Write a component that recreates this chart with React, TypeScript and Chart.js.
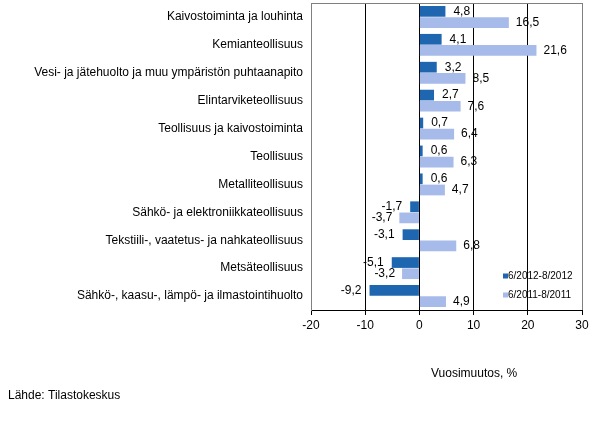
import { useEffect, useRef } from "react";
import { Chart, registerables } from "chart.js";

Chart.register(...registerables);

const categories = [
  "Kaivostoiminta ja louhinta",
  "Kemianteollisuus",
  "Vesi- ja jätehuolto ja muu ympäristön puhtaanapito",
  "Elintarviketeollisuus",
  "Teollisuus ja kaivostoiminta",
  "Teollisuus",
  "Metalliteollisuus",
  "Sähkö- ja elektroniikkateollisuus",
  "Tekstiili-, vaatetus- ja nahkateollisuus",
  "Metsäteollisuus",
  "Sähkö-, kaasu-, lämpö- ja ilmastointihuolto",
];

const series2012 = [4.8, 4.1, 3.2, 2.7, 0.7, 0.6, 0.6, -1.7, -3.1, -5.1, -9.2];
const series2011 = [16.5, 21.6, 8.5, 7.6, 6.4, 6.3, 4.7, -3.7, 6.8, -3.2, 4.9];

const seriesLabels = ["6/2012-8/2012", "6/2011-8/2011"];
const xTicks = [-20, -10, 0, 10, 20, 30];

const FONT = "'Liberation Sans', Arial, sans-serif";
const DARK = "#1f66b1";
const LIGHT = "#a6bbea";

// value labels next to the bar ends
const valueLabels = {
  id: "valueLabels",
  afterDatasetsDraw(chart: any) {
    const ctx = chart.ctx;
    ctx.save();
    ctx.font = `12px ${FONT}`;
    ctx.fillStyle = "#000";
    ctx.textBaseline = "middle";
    chart.data.datasets.forEach((ds: any, i: number) => {
      const meta = chart.getDatasetMeta(i);
      const gap = i === 0 ? 8 : 7;
      meta.data.forEach((bar: any, j: number) => {
        const v = ds.data[j];
        const txt = v.toFixed(1).replace(".", ",");
        if (v >= 0) {
          ctx.textAlign = "left";
          ctx.fillText(txt, bar.x + gap, bar.y);
        } else {
          ctx.textAlign = "right";
          ctx.fillText(txt, bar.x - gap, bar.y);
        }
      });
    });
    ctx.restore();
  },
};

// top border, legend and the texts below the chart
const extras = {
  id: "extras",
  beforeDatasetsDraw(chart: any) {
    const { ctx, chartArea } = chart;
    ctx.save();
    ctx.strokeStyle = "#808080";
    ctx.lineWidth = 1;
    ctx.beginPath();
    ctx.moveTo(chartArea.left, chartArea.top + 0.5);
    ctx.lineTo(chartArea.right, chartArea.top + 0.5);
    ctx.stroke();
    ctx.restore();
  },
  afterDraw(chart: any) {
    const { ctx } = chart;
    ctx.save();
    ctx.font = `10px ${FONT}`;
    ctx.textBaseline = "middle";
    ctx.textAlign = "left";
    chart.data.datasets.forEach((ds: any, i: number) => {
      const y = 276 + i * 19;
      ctx.fillStyle = ds.backgroundColor;
      ctx.fillRect(503, y - 2.5, 5, 5);
      ctx.fillStyle = "#000";
      ctx.fillText(ds.label, 508, y);
    });
    ctx.font = `12px ${FONT}`;
    ctx.fillText("Vuosimuutos, %", 431, 374);
    ctx.fillText("Lähde: Tilastokeskus", 8, 396);
    ctx.restore();
  },
};

const App = () => {
  const chartRef = useRef<HTMLCanvasElement>(null);
  const chartInstanceRef = useRef<Chart>();

  useEffect(() => {
    if (!chartRef.current) return;
    const ctx = chartRef.current.getContext("2d");

    if (chartInstanceRef.current) {
      chartInstanceRef.current.destroy();
    }

    chartInstanceRef.current = new Chart(ctx!, {
      type: "bar",
      data: {
        labels: categories,
        datasets: [
          {
            label: seriesLabels[0],
            data: series2012,
            backgroundColor: DARK,
            barPercentage: 0.96,
            categoryPercentage: 0.8,
          },
          {
            label: seriesLabels[1],
            data: series2011,
            backgroundColor: LIGHT,
            barPercentage: 0.96,
            categoryPercentage: 0.8,
          },
        ],
      },
      options: {
        indexAxis: "y",
        animation: false,
        responsive: true,
        maintainAspectRatio: false,
        layout: { padding: { top: 3, right: 16, left: 0, bottom: 81 } },
        plugins: {
          legend: { display: false },
          tooltip: { enabled: false },
        },
        scales: {
          x: {
            min: xTicks[0],
            max: xTicks[xTicks.length - 1],
            afterBuildTicks: (scale: any) => {
              scale.ticks = xTicks.map((v) => ({ value: v }));
            },
            afterFit: (scale: any) => {
              scale.height = 30;
              scale.paddingLeft = 0;
              scale.paddingRight = 0;
            },
            grid: {
              color: (c: any) =>
                c.tick && (c.tick.value === -20 || c.tick.value === 30)
                  ? "#808080"
                  : "#000",
              tickColor: "#000",
              tickLength: 5,
              lineWidth: 1,
            },
            border: { color: "#000" },
            ticks: {
              color: "#000",
              font: { family: FONT, size: 12 },
              padding: 3,
              maxRotation: 0,
            },
          },
          y: {
            afterFit: (scale: any) => {
              scale.width = 311;
              scale.paddingTop = 0;
              scale.paddingBottom = 0;
            },
            grid: { display: false, drawTicks: false },
            border: { color: "#808080" },
            ticks: {
              color: "#000",
              font: { family: FONT, size: 12 },
              padding: 8,
              autoSkip: false,
            },
          },
        },
      },
      plugins: [valueLabels, extras],
    });

    return () => {
      if (chartInstanceRef.current) {
        chartInstanceRef.current.destroy();
      }
    };
  }, []);

  return (
    <div style={{ position: "fixed", left: 0, top: 0, width: 598, height: 421, background: "#fff" }}>
      <canvas ref={chartRef}></canvas>
    </div>
  );
};

export default App;
